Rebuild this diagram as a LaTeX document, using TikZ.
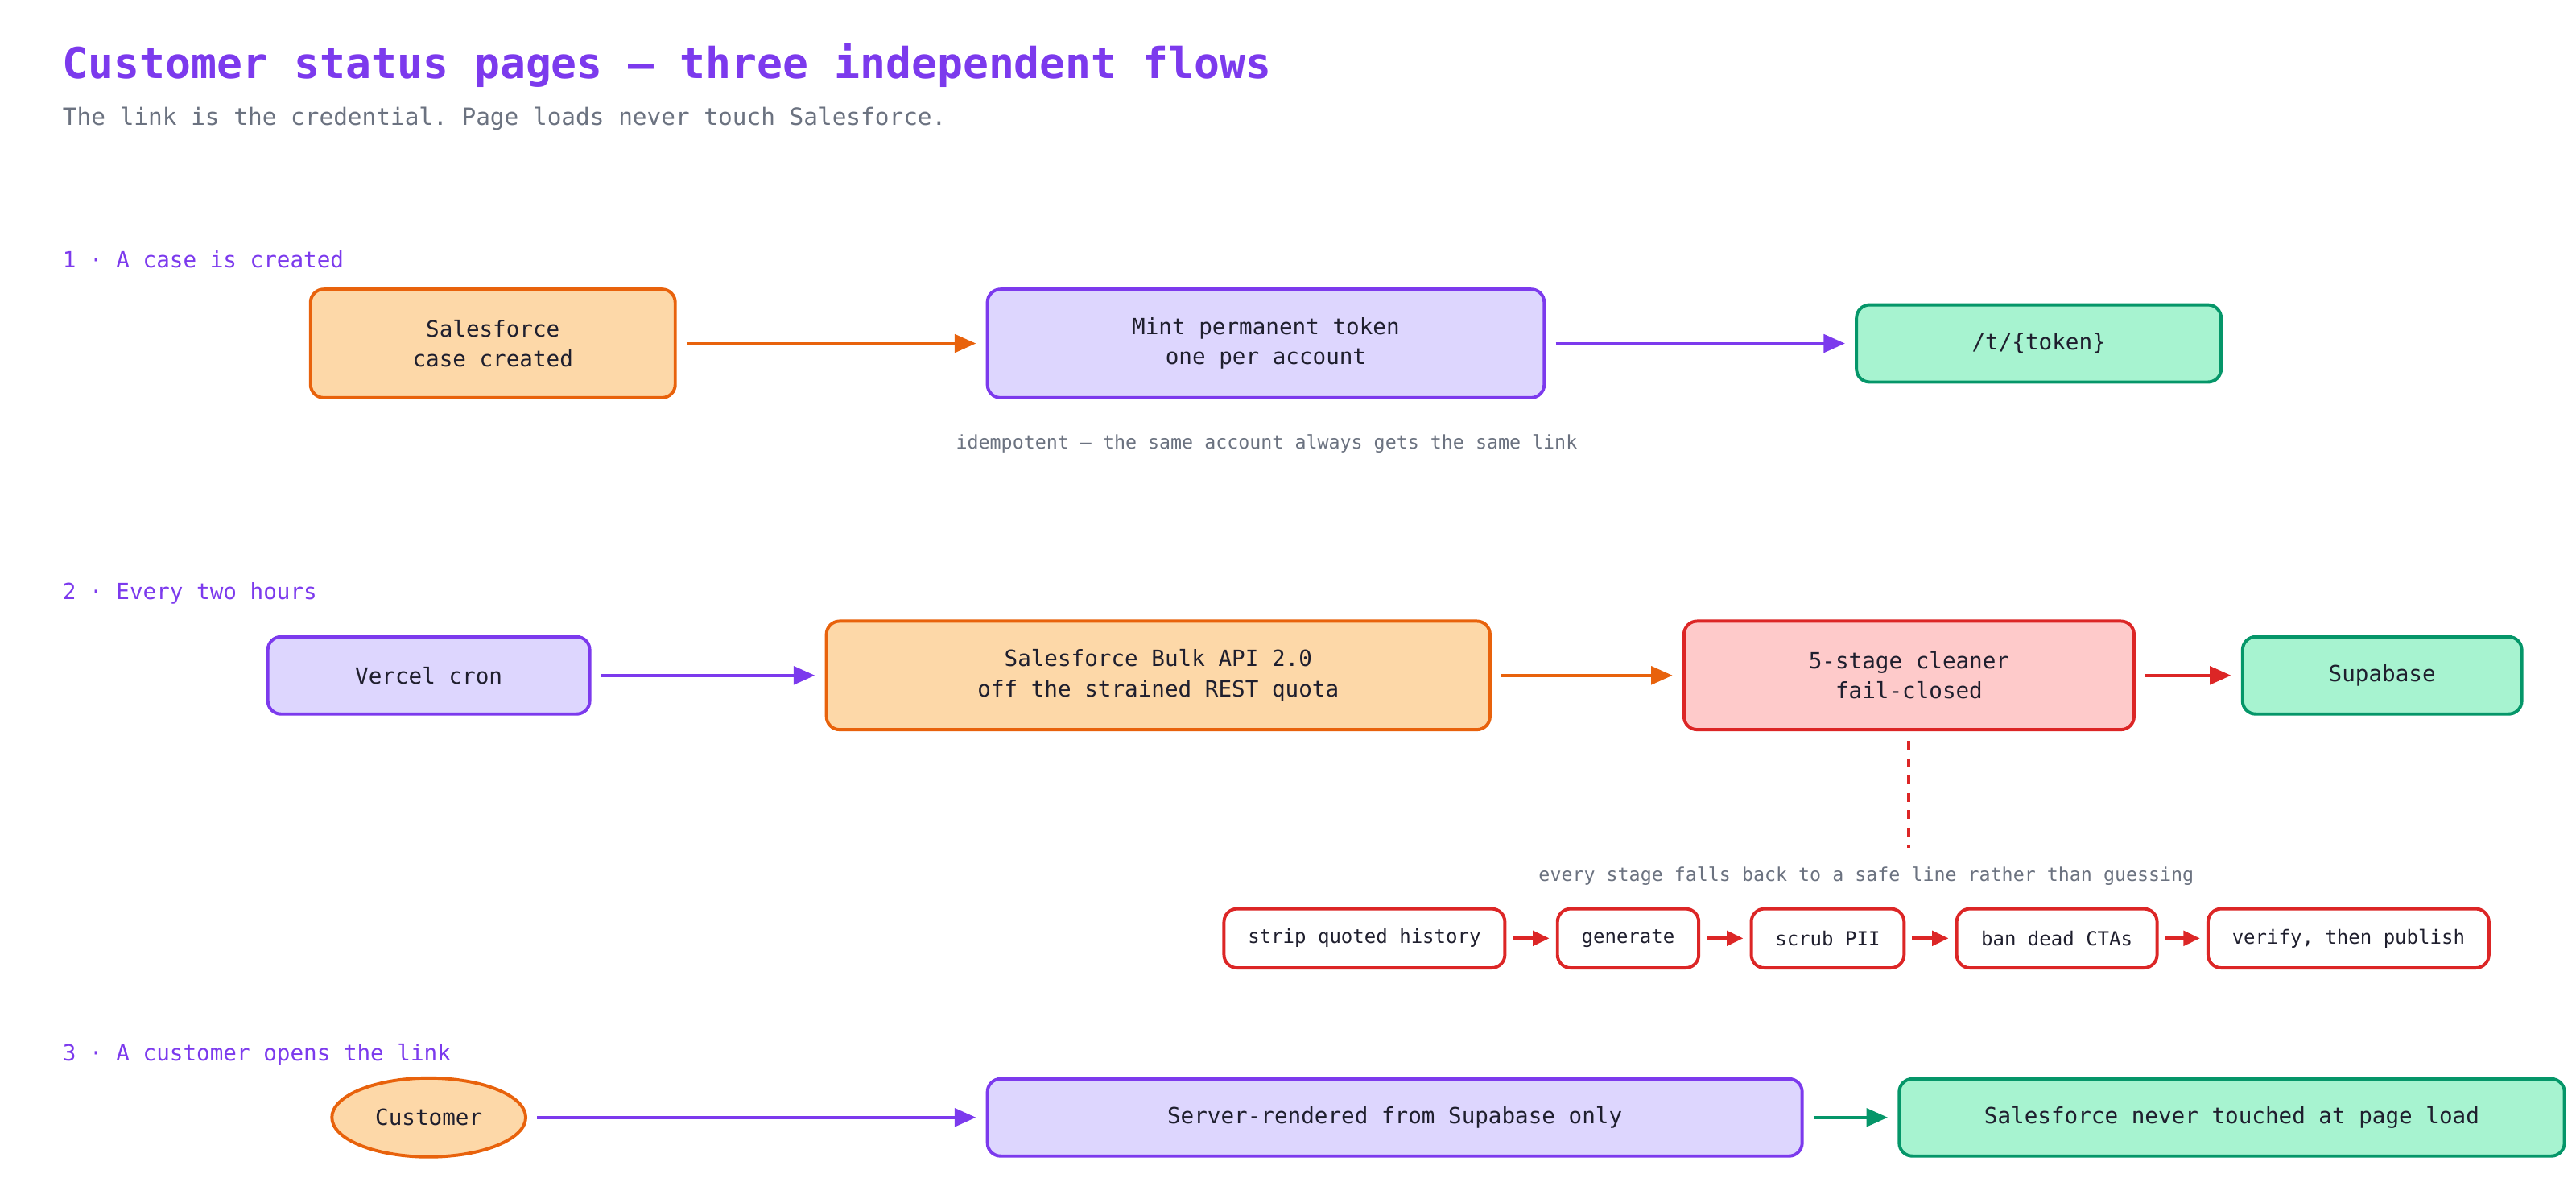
\documentclass[tikz,border=0pt]{standalone}
\usepackage{fontspec}
\setmonofont{DejaVu Sans Mono}
\usetikzlibrary{arrows.meta,shapes.geometric}
\definecolor{orfill}{HTML}{FDD8A8}\definecolor{ordraw}{HTML}{E8620C}
\definecolor{pufill}{HTML}{DDD6FE}\definecolor{pudraw}{HTML}{7C3AED}
\definecolor{grfill}{HTML}{A7F3D0}\definecolor{grdraw}{HTML}{059669}
\definecolor{refill}{HTML}{FECACA}\definecolor{redraw}{HTML}{DC2626}
\definecolor{note}{HTML}{6B7280}\definecolor{ink}{HTML}{1F1F2E}
\tikzset{
  box/.style={draw, rounded corners=0.16cm, line width=1.1pt, align=center,
    font=\ttfamily\fontsize{7.7}{10.5}\selectfont, text=ink, inner sep=0pt},
  orbox/.style={box, fill=orfill, draw=ordraw},
  pubox/.style={box, fill=pufill, draw=pudraw},
  grbox/.style={box, fill=grfill, draw=grdraw},
  rebox/.style={box, fill=refill, draw=redraw},
  stage/.style={box, fill=white, draw=redraw, minimum height=0.72cm,
    font=\ttfamily\fontsize{6.7}{8}\selectfont},
  flow/.style={line width=1.1pt, shorten <=0.12cm, shorten >=0.12cm,
    -{Triangle[length=0.26cm,width=0.22cm]}},
  small/.style={flow, -{Triangle[length=0.2cm,width=0.18cm]}, shorten <=0.08cm, shorten >=0.08cm},
  section/.style={anchor=west, text=pudraw, font=\ttfamily\fontsize{7.7}{9}\selectfont},
  remark/.style={text=note, font=\ttfamily\fontsize{6.5}{8}\selectfont},
}
\begin{document}
\begin{tikzpicture}[x=0.02cm,y=-0.02cm]
	\useasboundingbox (0,0) rectangle (1568,731.6);
	\node[anchor=west, text=pudraw, font=\ttfamily\bfseries\fontsize{14.8}{18}\selectfont] (title) at (32,40) {Customer status pages — three independent flows};
	\node[anchor=west, text=note, font=\ttfamily\fontsize{8.2}{10}\selectfont] (subtitle) at (32,72) {The link is the credential. Page loads never touch Salesforce.};
	
	% flow 1
	\node[section] (s1) at (32,158) {1 · A case is created};
	\node[orbox, minimum width=4.44cm, minimum height=1.32cm] (sf) at (300,209) {Salesforce\\case created};
	\node[pubox, minimum width=6.78cm, minimum height=1.32cm] (mint) at (770.5,209) {Mint permanent token\\one per account};
	\node[grbox, minimum width=4.44cm, minimum height=0.94cm] (tok) at (1241,209) {/t/\{token\}};
	\node[remark] (idem) at (771,270) {idempotent — the same account always gets the same link};
	\draw[flow, ordraw] (sf) -- (mint);
	\draw[flow, pudraw] (mint) -- (tok);
	
	% flow 2
	\node[section] (s2) at (32,361) {2 · Every two hours};
	\node[pubox, minimum width=3.92cm, minimum height=0.94cm] (cron) at (261,411) {Vercel cron};
	\node[orbox, minimum width=8.08cm, minimum height=1.32cm] (bulk) at (705,411) {Salesforce Bulk API 2.0\\off the strained REST quota};
	\node[rebox, minimum width=5.48cm, minimum height=1.32cm] (clean) at (1162,411) {5-stage cleaner\\fail-closed};
	\node[grbox, minimum width=3.4cm, minimum height=0.94cm] (supa) at (1450,411) {Supabase};
	\draw[flow, pudraw] (cron) -- (bulk);
	\draw[flow, ordraw] (bulk) -- (clean);
	\draw[flow, redraw] (clean) -- (supa);
	\coordinate (drop) at (1162,516);
	\draw[redraw, line width=1.1pt, dashed, shorten <=0.12cm] (clean) -- (drop);
	\node[remark] (safe) at (1136,533) {every stage falls back to a safe line rather than guessing};
	\node[stage, minimum width=3.42cm] (st1) at (830.5,571) {strip quoted history};
	\node[stage, minimum width=1.72cm] (st2) at (991,571) {generate};
	\node[stage, minimum width=1.86cm] (st3) at (1112.5,571) {scrub PII};
	\node[stage, minimum width=2.44cm] (st4) at (1252,571) {ban dead CTAs};
	\node[stage, minimum width=3.42cm] (st5) at (1429.5,571) {verify, then publish};
	\foreach \a/\b in {st1/st2,st2/st3,st3/st4,st4/st5}
		\draw[small, redraw] (\a) -- (\b);
	
	% flow 3
	\node[section] (s3) at (32,642) {3 · A customer opens the link};
	\node[ellipse, box, fill=orfill, draw=ordraw, minimum width=2.36cm, minimum height=0.96cm] (cust) at (261,680) {Customer};
	\node[pubox, minimum width=9.92cm, minimum height=0.94cm] (render) at (849,680) {Server-rendered from Supabase only};
	\node[grbox, minimum width=8.1cm, minimum height=0.94cm] (never) at (1358.5,680) {Salesforce never touched at page load};
	\draw[flow, pudraw] (cust) -- (render);
	\draw[flow, grdraw] (render) -- (never);
\end{tikzpicture}
\end{document}
